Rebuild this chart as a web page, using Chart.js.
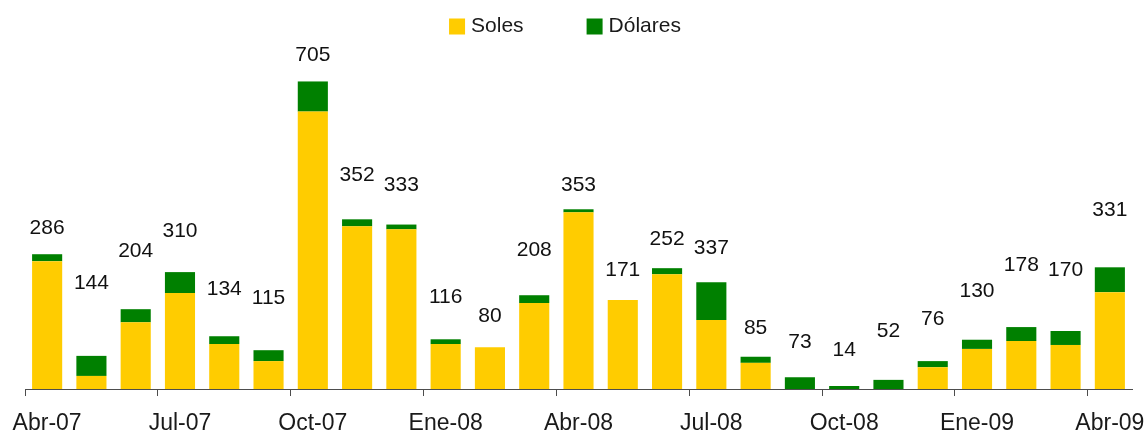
<!DOCTYPE html>
<html>
<head>
<meta charset="utf-8">
<script src="https://cdn.jsdelivr.net/npm/chart.js@4/dist/chart.umd.min.js"></script>
<style>
  html, body { margin: 0; padding: 0; background: #ffffff; }
  #wrap { width: 1146px; height: 434px; position: relative; }
</style>
</head>
<body>
<div id="wrap"><canvas id="c" width="1146" height="434"></canvas></div>
<script>
// ---- Data ----
const months = ['Abr-07','May-07','Jun-07','Jul-07','Ago-07','Set-07','Oct-07','Nov-07','Dic-07',
                'Ene-08','Feb-08','Mar-08','Abr-08','May-08','Jun-08','Jul-08','Ago-08','Set-08',
                'Oct-08','Nov-08','Dic-08','Ene-09','Feb-09','Mar-09','Abr-09'];
const tickLabels = ['Abr-07','Jul-07','Oct-07','Ene-08','Abr-08','Jul-08','Oct-08','Ene-09','Abr-09'];
const soles   = [293, 30, 153, 220, 103, 64, 636, 373, 366, 103, 96, 197, 405, 204, 263, 158, 60, 0, 0, 0, 50, 92, 110, 101, 222];
const dolares = [16, 46, 30, 48, 18, 25, 69, 16, 11, 11, 0, 18, 7, 0, 14, 87, 14, 27, 7, 21, 14, 21, 32, 32, 57];
const totals  = [286, 144, 204, 310, 134, 115, 705, 352, 333, 116, 80, 208, 353, 171, 252, 337, 85, 73, 14, 52, 76, 130, 178, 170, 331];
const labelLevels = [369, 243, 316, 362, 229, 208, 765, 490, 467, 211, 167, 318, 467, 272, 343, 323, 140, 108, 89, 133, 160, 224, 284, 272, 410];
const seriesNames = ['Soles', 'Dólares'];

const FONT = "'Liberation Sans', Arial, sans-serif";
Chart.defaults.font.family = FONT;

const dataLabelPlugin = {
  id: 'dataLabels',
  afterDatasetsDraw(chart) {
    const meta = chart.getDatasetMeta(2);
    const ctx = chart.ctx;
    ctx.save();
    ctx.font = '21px ' + FONT;
    ctx.fillStyle = '#111111';
    ctx.textAlign = 'center';
    ctx.textBaseline = 'middle';
    meta.data.forEach((pt, i) => {
      ctx.fillText(String(totals[i]), pt.x, pt.y);
    });
    ctx.restore();
  }
};

const legendPlugin = {
  id: 'customLegend',
  afterDraw(chart) {
    const ctx = chart.ctx;
    ctx.save();
    ctx.font = '21px ' + FONT;
    const box = 16, gapText = 6, gapItem = 63;
    const items = [0, 1].map(i => ({
      text: chart.data.datasets[i].label,
      color: chart.data.datasets[i].backgroundColor,
      w: ctx.measureText(chart.data.datasets[i].label).width
    }));
    let total = 0;
    items.forEach((it, i) => { total += box + gapText + it.w + (i < items.length - 1 ? gapItem : 0); });
    let x = 565 - total / 2;
    const yMid = 26.5;
    ctx.textBaseline = 'middle';
    ctx.textAlign = 'left';
    items.forEach(it => {
      ctx.fillStyle = it.color;
      ctx.fillRect(x, yMid - box / 2, box, box);
      ctx.fillStyle = '#1a1a1a';
      ctx.fillText(it.text, x + box + gapText, yMid);
      x += box + gapText + it.w + gapItem;
    });
    ctx.restore();
  }
};

new Chart(document.getElementById('c'), {
  type: 'bar',
  data: {
    labels: months,
    datasets: [
      { label: seriesNames[0], data: soles, backgroundColor: '#FFCC00', borderWidth: 0,
        barPercentage: 0.68, categoryPercentage: 1.0, order: 2 },
      { label: seriesNames[1], data: dolares, backgroundColor: '#008000', borderWidth: 0,
        barPercentage: 0.68, categoryPercentage: 1.0, order: 2 },
      { type: 'line', label: 'Total', data: labelLevels, stack: 'labels', showLine: false,
        pointRadius: 0, pointHoverRadius: 0, borderWidth: 0, order: 1 }
    ]
  },
  options: {
    responsive: false,
    animation: false,
    layout: { padding: { top: 40, left: 25, right: 14, bottom: -17 } },
    plugins: {
      legend: { display: false },
      tooltip: { enabled: false }
    },
    scales: {
      x: {
        stacked: true,
        offset: true,
        border: { display: true, color: '#4d4d4d', width: 1 },
        grid: {
          offset: true,
          drawOnChartArea: false,
          drawTicks: true,
          tickLength: 7,
          tickWidth: 1,
          tickColor: (c) => (c.index !== undefined && c.index % 3 === 0) ? '#4d4d4d' : 'rgba(0,0,0,0)'
        },
        ticks: {
          autoSkip: false,
          maxRotation: 0,
          minRotation: 0,
          padding: 0,
          color: '#1a1a1a',
          font: { size: 23, lineHeight: 2.39 },
          callback: (v, i) => (i % 3 === 0 ? tickLabels[i / 3] : '')
        }
      },
      y: {
        display: false,
        stacked: true,
        min: 0,
        max: 800
      }
    }
  },
  plugins: [dataLabelPlugin, legendPlugin]
});
</script>
</body>
</html>
